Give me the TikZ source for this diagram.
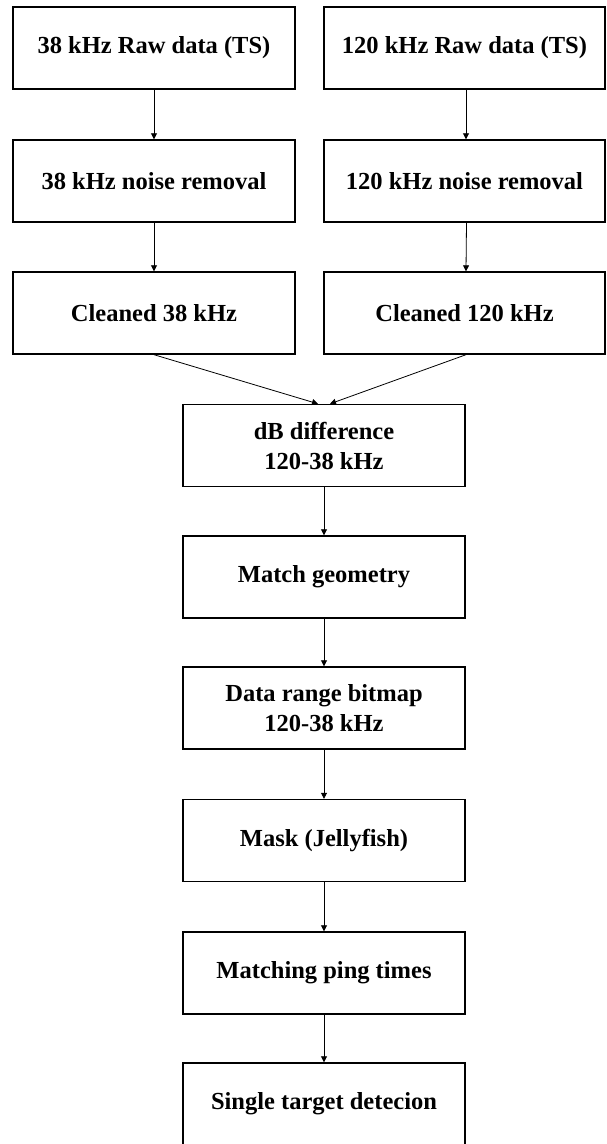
\documentclass[tikz,border=0pt]{standalone}
\usepackage{fontspec}
\setmainfont{Liberation Serif}
\usetikzlibrary{arrows.meta}
\begin{document}
\begin{tikzpicture}[x=1pt,y=-1pt,
  flowbox/.style={draw=black, line width=1.4pt, minimum height=82pt, inner sep=0pt,
    align=center, font=\fontsize{24.5}{30}\selectfont\bfseries},
  widebox/.style={flowbox, minimum width=282pt},
  conn/.style={draw=black, line width=0.8pt, -{Triangle[width=6pt,length=6pt]}}]
\useasboundingbox (0,0) rectangle (606,1144);
\fill[white] (0,0) rectangle (606,1144);
\node[widebox] (r38) at (154,48) {38 kHz Raw data (TS)};
\node[widebox, minimum width=281pt] (r120) at (464.5,48) {120 kHz Raw data (TS)};
\node[widebox] (n38) at (154,181) {38 kHz noise removal};
\node[widebox, minimum width=281pt] (n120) at (464.5,181) {120 kHz noise removal};
\node[widebox] (c38) at (154,313) {Cleaned 38 kHz};
\node[widebox, minimum width=281pt] (c120) at (464.5,313) {Cleaned 120 kHz};
\node[widebox] (db) at (324,445.5) {dB difference\\120-38 kHz};
\node[widebox] (mg) at (324,577) {Match geometry};
\node[widebox] (dr) at (324,708) {Data range bitmap\\120-38 kHz};
\node[widebox] (mk) at (324,840.5) {Mask (Jellyfish)};
\node[widebox] (mp) at (324,973) {Matching ping times};
\node[widebox] (st) at (324,1104) {Single target detecion};
\draw[conn] (r38) -- (n38);
\draw[conn] (n38) -- (c38);
\draw[conn] ([xshift=1.5pt]r120.south) -- ([xshift=1.5pt]n120.north);
\draw[conn] ([xshift=2pt]n120.south) -- ([xshift=1.5pt]c120.north);
\draw[conn] (c38.south) -- ([xshift=-6pt]db.north);
\draw[conn] ([xshift=1.5pt]c120.south) -- ([xshift=6pt]db.north);
\draw[conn] (db) -- (mg);
\draw[conn] (mg) -- (dr);
\draw[conn] (dr) -- (mk);
\draw[conn] (mk) -- (mp);
\draw[conn] (mp) -- (st);
\end{tikzpicture}
\end{document}
